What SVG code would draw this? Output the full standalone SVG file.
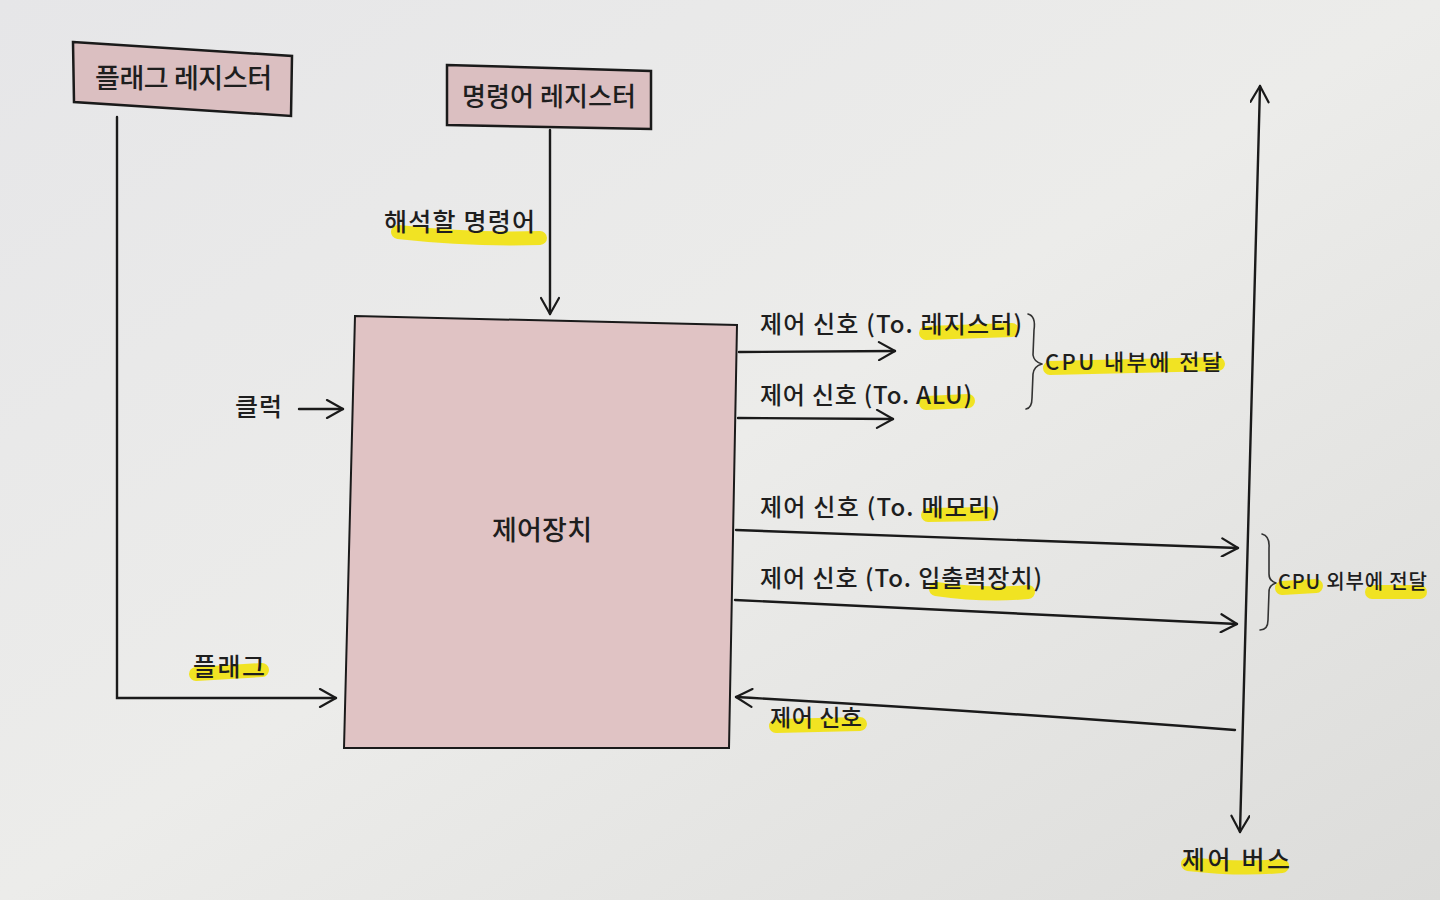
<svg xmlns="http://www.w3.org/2000/svg" width="1440" height="900" viewBox="0 0 1440 900">
<defs>
<linearGradient id="paper" x1="0" y1="0" x2="1" y2="1">
<stop offset="0" stop-color="#e6e6e8"/>
<stop offset="0.5" stop-color="#ececea"/>
<stop offset="1" stop-color="#dcdcda"/>
</linearGradient>
<marker id="open" viewBox="0 0 20 20" refX="18" refY="10" markerWidth="20" markerHeight="20" markerUnits="userSpaceOnUse" orient="auto-start-reverse">
<path d="M2 1 L18 10 L2 19" fill="none" stroke="#1a1a1a" stroke-width="2.2" stroke-linecap="round" stroke-linejoin="round"/>
</marker>
<style>
.box{fill:#dbbfc1;stroke:#1a1a1a;stroke-width:2.5}
.cu{fill:#e0c3c4;stroke:#1a1a1a;stroke-width:2}
.ln{fill:none;stroke:#1a1a1a;stroke-width:2.4;stroke-linecap:round}
.br{fill:none;stroke:#333;stroke-width:1.6;stroke-linecap:round;stroke-linejoin:round}
.hl{fill:none;stroke:#f2e200;stroke-width:14;stroke-linecap:round;opacity:0.85}
text{font-family:"Noto Sans CJK KR","Noto Sans",sans-serif;fill:#1e1e1e;font-weight:500}
</style>
</defs>
<rect x="0" y="0" width="1440" height="900" fill="url(#paper)"/>

<g id="highlights">
<path class="hl" d="M182 90 Q230 100 266 88"/>
<path class="hl" d="M554 106 Q610 112 642 100"/>
<path class="hl" d="M398 232 Q470 240 540 238"/>
<path class="hl" d="M196 674 L262 670"/>
<path class="hl" d="M496 540 L588 534"/>
<path class="hl" d="M926 333 L1012 330"/>
<path class="hl" d="M926 403 L968 401"/>
<path class="hl" d="M1050 368 L1218 364"/>
<path class="hl" d="M928 515 L988 514"/>
<path class="hl" d="M936 589 Q985 596 1028 592"/>
<path class="hl" d="M1282 588 L1316 586"/>
<path class="hl" d="M1372 592 L1420 592"/>
<path class="hl" d="M776 726 L860 724"/>
<path class="hl" d="M1188 864 Q1240 870 1282 866"/>
</g>

<g id="connectors">
<path class="ln" d="M117 117 L117 698 L336 698" marker-end="url(#open)"/>
<path class="ln" d="M550 130 L550 314" marker-end="url(#open)"/>
<path class="ln" d="M299 409 L343 409" marker-end="url(#open)"/>
<path class="ln" d="M739 352 L895 351" marker-end="url(#open)"/>
<path class="ln" d="M738 418 L893 419" marker-end="url(#open)"/>
<path class="ln" d="M736 530 L1238 548" marker-end="url(#open)"/>
<path class="ln" d="M735 600 L1237 624" marker-end="url(#open)"/>
<path class="ln" d="M1235 730 Q1000 712 736 697" marker-end="url(#open)"/>
<path class="ln" d="M1240 832 L1260 86" marker-start="url(#open)" marker-end="url(#open)"/>
<path class="br" d="M1028 314 Q1036 316 1034 330 L1033 355 Q1034 362 1042 364 Q1034 366 1033 374 L1032 398 Q1032 408 1026 409"/>
<path class="br" d="M1262 534 Q1270 536 1269 548 L1269 574 Q1269 581 1276 583 Q1269 585 1269 592 L1268 620 Q1268 630 1260 630"/>
</g>

<g id="flag-register">
<polygon class="box" points="73,42 292,56 291,116 74,102"/>
<text x="95" y="88" font-size="27" textLength="177" lengthAdjust="spacing">플래그 레지스터</text>
</g>

<g id="instruction-register">
<polygon class="box" points="447,65 651,71 651,129 447,125"/>
<text x="462" y="106" font-size="26" textLength="174" lengthAdjust="spacing">명령어 레지스터</text>
</g>

<g id="control-unit">
<polygon class="cu" points="355,316 737,325 729,748 344,748"/>
<text x="492" y="540" font-size="27" textLength="100" lengthAdjust="spacing">제어장치</text>
</g>

<g id="labels">
<text x="384" y="231" font-size="25" textLength="151" lengthAdjust="spacing">해석할 명령어</text>
<text x="235" y="416" font-size="25" textLength="47" lengthAdjust="spacing">클럭</text>
<text x="193" y="676" font-size="25" textLength="72" lengthAdjust="spacing">플래그</text>
<text x="760" y="333" font-size="24" textLength="262" lengthAdjust="spacing">제어 신호 (To. 레지스터)</text>
<text x="760" y="404" font-size="24" textLength="212" lengthAdjust="spacing">제어 신호 (To. ALU)</text>
<text x="1045" y="370" font-size="22" textLength="177" lengthAdjust="spacing">CPU 내부에 전달</text>
<text x="760" y="516" font-size="24" textLength="240" lengthAdjust="spacing">제어 신호 (To. 메모리)</text>
<text x="760" y="587" font-size="24" textLength="282" lengthAdjust="spacing">제어 신호 (To. 입출력장치)</text>
<text x="1278" y="589" font-size="20" textLength="149" lengthAdjust="spacing">CPU 외부에 전달</text>
<text x="770" y="726" font-size="23" textLength="92" lengthAdjust="spacing">제어 신호</text>
<text x="1182" y="869" font-size="25" textLength="108" lengthAdjust="spacing">제어 버스</text>
</g>
</svg>
